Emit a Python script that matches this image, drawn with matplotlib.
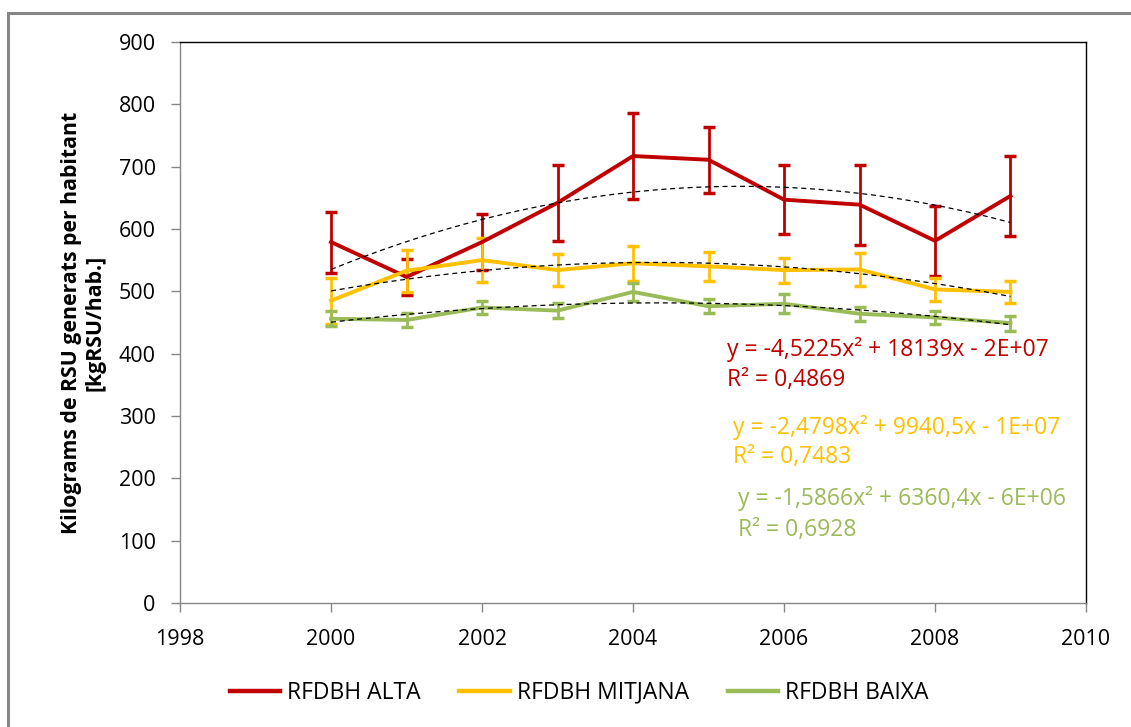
import numpy as np
import matplotlib.pyplot as plt
from matplotlib.patches import Rectangle
from matplotlib.lines import Line2D

plt.rcParams['font.family'] = ['Open Sans', 'DejaVu Sans']

# Municipal waste per inhabitant by RFDBH group (kg/hab.), mean and error
years = [2000, 2001, 2002, 2003, 2004, 2005, 2006, 2007, 2008, 2009]

alta = [579, 523, 579, 642, 717, 711, 647, 639, 581, 653]
alta_err = [49, 29, 45, 61, 69, 53, 55, 64, 56, 64]

mitjana = [485, 533, 550, 534, 545, 540, 534, 535, 503, 499]
mitjana_err = [37, 34, 35, 26, 28, 23, 20, 26, 18, 17]

baixa = [456, 454, 474, 469, 499, 476, 480, 464, 458, 449]
baixa_err = [12, 11, 11, 12, 15, 11, 15, 11, 11, 12]

labels = ['RFDBH ALTA', 'RFDBH MITJANA', 'RFDBH BAIXA']
colors = ['#C00000', '#FFC000', '#9BBB59']

equations = ['y = -4,5225x² + 18139x - 2E+07',
             'y = -2,4798x² + 9940,5x - 1E+07',
             'y = -1,5866x² + 6360,4x - 6E+06']
r2_labels = ['R² = 0,4869', 'R² = 0,7483', 'R² = 0,6928']

fig = plt.figure(figsize=(11.31, 7.27), dpi=100)
ax = fig.add_axes([0.1592, 0.1706, 0.801, 0.7717])

# grey frame around the chart area
fig.patches.append(Rectangle((8 / 1131, -0.1), 1.2, 1 - 13 / 727 + 0.1,
                             transform=fig.transFigure, fill=False,
                             edgecolor='#878787', linewidth=2.2))

series = [(alta, alta_err), (mitjana, mitjana_err), (baixa, baixa_err)]
x = np.array(years, dtype=float)
xs = np.linspace(x[0], x[-1], 200)

for (vals, err), col in zip(series, colors):
    ax.errorbar(years, vals, yerr=err, color=col, linewidth=2.8,
                elinewidth=2.0, capsize=4.5, capthick=2.5, zorder=3)

# second-order trendlines fitted on each series
for vals, _ in series:
    coef = np.polyfit(x - 2000, vals, 2)
    ax.plot(xs, np.polyval(coef, xs - 2000), color='black', linewidth=0.9,
            linestyle=(0, (4, 3)), zorder=4)

# trendline equations, placed in data coordinates
eq_x = [2005.25, 2005.33, 2005.39]
eq_y = [407, 282, 168]
r2_y = [358, 234, 117]
for i in range(3):
    ax.text(eq_x[i], eq_y[i], equations[i], color=colors[i], fontsize=16.5,
            va='center', ha='left')
    ax.text(eq_x[i], r2_y[i], r2_labels[i], color=colors[i], fontsize=16.5,
            va='center', ha='left')

ax.set_xlim(1998, 2010)
ax.set_ylim(0, 900)
ax.set_xticks(range(1998, 2011, 2))
ax.set_yticks(range(0, 901, 100))

for side in ['left', 'bottom']:
    ax.spines[side].set_color('#868686')
    ax.spines[side].set_linewidth(1.0)
for side in ['top', 'right']:
    ax.spines[side].set_color('black')
    ax.spines[side].set_linewidth(1.0)

ax.tick_params(axis='both', direction='out', length=6.5, width=1.0,
               color='#868686', labelsize=15.5, labelcolor='black')
ax.tick_params(axis='y', pad=11)
ax.tick_params(axis='x', pad=12)

ax.set_ylabel('Kilograms de RSU generats per habitant\n[kgRSU/hab.]',
              fontsize=15.3, fontweight='bold', linespacing=1.2)
ax.yaxis.set_label_coords(-0.082, 0.5)

handles = [Line2D([], [], color=c, linewidth=3.2) for c in colors]
fig.legend(handles, labels, loc='center', bbox_to_anchor=(0.512, 0.047),
           ncol=3, frameon=False, fontsize=16.5, handlelength=2.2,
           handletextpad=0.3, columnspacing=1.7)

fig.savefig('out.png', dpi=100)
